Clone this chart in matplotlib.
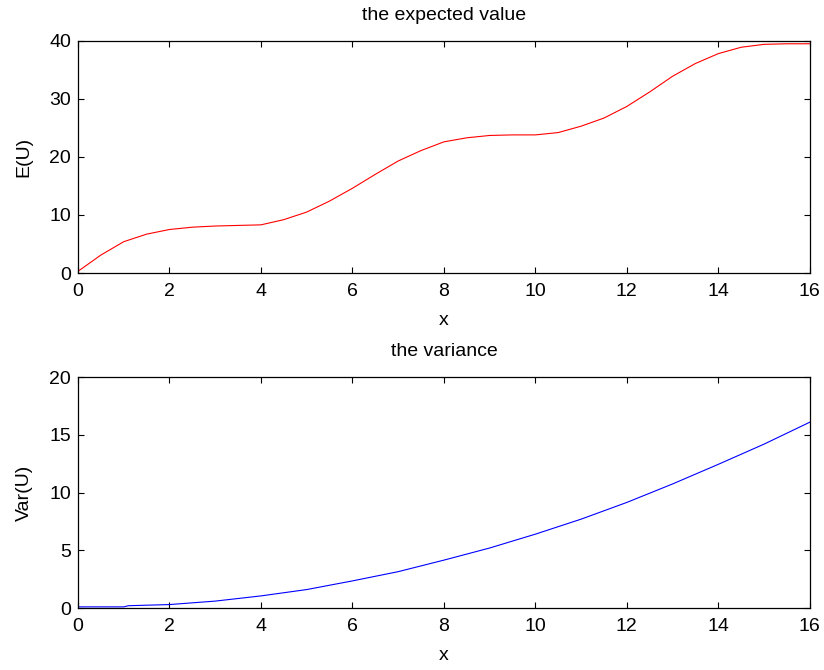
import numpy as np
import matplotlib
matplotlib.use("Agg")
import matplotlib.pyplot as plt

plt.rcParams['font.family'] = ['Liberation Sans', 'DejaVu Sans']

# expected value E(U)
x_e = [0, 0.5, 1, 1.5, 2, 2.5, 3, 3.5, 4, 4.5, 5, 5.5, 6, 6.5, 7, 7.5,
       8, 8.5, 9, 9.5, 10, 10.5, 11, 11.5, 12, 12.5, 13, 13.5, 14, 14.5, 15, 15.5, 16]
e_u = [0.3, 3.1, 5.4, 6.7, 7.5, 7.9, 8.1, 8.2, 8.3, 9.2, 10.5, 12.4, 14.6, 17.0, 19.3, 21.1,
       22.6, 23.3, 23.7, 23.8, 23.8, 24.2, 25.3, 26.7, 28.7, 31.2, 33.9, 36.1, 37.8, 38.9, 39.4, 39.5, 39.5]

# variance Var(U)
x_v = [0, 1, 1.1, 2, 3, 4, 5, 6, 7, 8, 9, 10, 11, 12, 13, 14, 15, 16]
var_u = [0.1, 0.1, 0.2, 0.3, 0.6, 1.05, 1.6, 2.35, 3.15, 4.15, 5.2, 6.4, 7.7, 9.15, 10.75, 12.45, 14.2, 16.1]

fs = 14

fig = plt.figure(figsize=(8.24, 6.7), dpi=100)
ax1 = fig.add_axes([0.0947, 0.5925, 0.888, 0.3465])
ax2 = fig.add_axes([0.0947, 0.0925, 0.888, 0.3445])

ax1.plot(x_e, e_u, color='red', linewidth=0.8)
ax1.set_xlim(0, 16)
ax1.set_ylim(0, 40)
ax1.set_xticks(range(0, 17, 2))
ax1.set_yticks(range(0, 41, 10))
ax1.set_title('the expected value', fontsize=fs, pad=15)
ax1.set_xlabel('x', fontsize=fs, labelpad=9)
ax1.set_ylabel('E(U)', fontsize=fs, labelpad=12)

ax2.plot(x_v, var_u, color='blue', linewidth=0.8)
ax2.set_xlim(0, 16)
ax2.set_ylim(0, 20)
ax2.set_xticks(range(0, 17, 2))
ax2.set_yticks(range(0, 21, 5))
ax2.set_title('the variance', fontsize=fs, pad=15)
ax2.set_xlabel('x', fontsize=fs, labelpad=9)
ax2.set_ylabel('Var(U)', fontsize=fs, labelpad=12)

for ax in (ax1, ax2):
    ax.tick_params(direction='in', top=True, right=True, length=4, width=0.8,
                   labelsize=fs)
    ax.tick_params(axis='x', pad=7)
    ax.tick_params(axis='y', pad=5)
    for s in ax.spines.values():
        s.set_linewidth(0.9)

fig.savefig('out.png', dpi=100)
